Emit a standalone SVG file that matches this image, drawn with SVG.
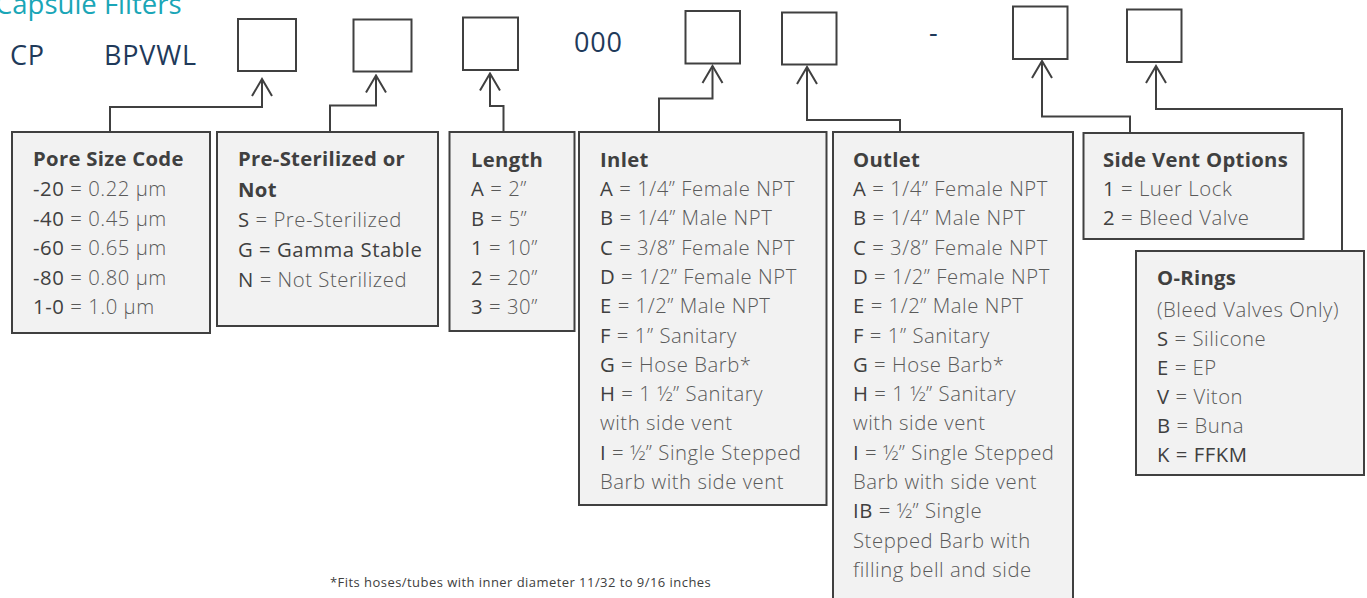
<svg xmlns="http://www.w3.org/2000/svg" width="1367" height="598" viewBox="0 0 1367 598">
<defs>
<style>
.slot{fill:#fff;stroke:#404040;stroke-width:2}
.box{fill:#f2f2f2;stroke:#404040;stroke-width:2}
.conn{fill:none;stroke:#404040;stroke-width:2}
text{font-family:"Open Sans","Noto Sans","Liberation Sans",sans-serif}
.code{font-size:27px;fill:#1f3a5a;letter-spacing:0.8px}
.t{font-size:20.3px;fill:#5a5a5a;font-weight:300;letter-spacing:0.55px}
.h{font-weight:700;fill:#404040;letter-spacing:0.3px}
.k{font-weight:400;fill:#404040}
.title{font-size:27.5px;fill:#1aa6b7}
.note{font-size:13px;fill:#404040;letter-spacing:0.45px}
</style>
<marker id="open" viewBox="-20 -12 22 24" refX="0" refY="0" markerWidth="22" markerHeight="24" markerUnits="userSpaceOnUse" orient="auto"><path d="M-17,-10 L0,0 L-17,10" fill="none" stroke="#404040" stroke-width="2"/></marker>
</defs>
<rect width="1367" height="598" fill="#fff"/>
<g id="header">
<text class="title" x="-5" y="14">Capsule Filters</text>
<text class="code" x="10" y="65">CP</text>
<text class="code" x="104" y="65">BPVWL</text>
<text class="code" x="574" y="52">000</text>
<text class="code" x="929" y="42">-</text>
</g>
<g id="slots">
<rect id="slot1" class="slot" x="238" y="19" width="58" height="52"/>
<rect id="slot2" class="slot" x="353.5" y="19.5" width="58" height="52"/>
<rect id="slot3" class="slot" x="463" y="17.5" width="55" height="52.5"/>
<rect id="slot4" class="slot" x="685.5" y="11" width="54.5" height="52.5"/>
<rect id="slot5" class="slot" x="782" y="12.5" width="54.5" height="52"/>
<rect id="slot6" class="slot" x="1013" y="6.5" width="54.5" height="52.5"/>
<rect id="slot7" class="slot" x="1127" y="9.5" width="54.5" height="52.5"/>
</g>
<g id="connectors">
<path class="conn" d="M110,133 V107 H262 V79" marker-end="url(#open)"/>
<path class="conn" d="M330,133 V105.5 H376 V75.5" marker-end="url(#open)"/>
<path class="conn" d="M503.5,132 V106 H490 V73.5" marker-end="url(#open)"/>
<path class="conn" d="M659,132 V98.5 H712.5 V66" marker-end="url(#open)"/>
<path class="conn" d="M900,133 V120 H807 V67" marker-end="url(#open)"/>
<path class="conn" d="M1130,133 V116.5 H1042 V61" marker-end="url(#open)"/>
<path class="conn" d="M1342,251 V109 H1156 V66" marker-end="url(#open)"/>
</g>
<g id="pore">
<rect class="box" x="12" y="132" width="198" height="201"/>
<text class="t" x="33"><tspan class="h" x="33" y="166">Pore Size Code</tspan>
<tspan x="33" y="196"><tspan class="k">-20</tspan> = 0.22 µm</tspan>
<tspan x="33" y="225.5"><tspan class="k">-40</tspan> = 0.45 µm</tspan>
<tspan x="33" y="255"><tspan class="k">-60</tspan> = 0.65 µm</tspan>
<tspan x="33" y="284.5"><tspan class="k">-80</tspan> = 0.80 µm</tspan>
<tspan x="33" y="314"><tspan class="k">1-0</tspan> = 1.0 µm</tspan></text>
</g>
<g id="sterile">
<rect class="box" x="217" y="132" width="221" height="194"/>
<text class="t"><tspan class="h" x="238" y="166">Pre-Sterilized or</tspan>
<tspan class="h" x="238" y="196.5">Not</tspan>
<tspan x="238" y="226.5"><tspan class="k">S</tspan> = Pre-Sterilized</tspan>
<tspan x="238" y="256.5" class="k">G = Gamma Stable</tspan>
<tspan x="238" y="286.5"><tspan class="k">N</tspan> = Not Sterilized</tspan></text>
</g>
<g id="length">
<rect class="box" x="449.5" y="132" width="125" height="199"/>
<text class="t"><tspan class="h" x="471" y="166.5">Length</tspan>
<tspan x="471" y="196"><tspan class="k">A</tspan> = 2”</tspan>
<tspan x="471" y="225.5"><tspan class="k">B</tspan> = 5”</tspan>
<tspan x="471" y="255"><tspan class="k">1</tspan> = 10”</tspan>
<tspan x="471" y="284.5"><tspan class="k">2</tspan> = 20”</tspan>
<tspan x="471" y="314"><tspan class="k">3</tspan> = 30”</tspan></text>
</g>
<g id="inlet">
<rect class="box" x="579" y="132" width="247.5" height="373"/>
<text class="t"><tspan class="h" x="600" y="166.5">Inlet</tspan>
<tspan x="600" y="196"><tspan class="k">A</tspan> = 1/4” Female NPT</tspan>
<tspan x="600" y="225.3"><tspan class="k">B</tspan> = 1/4” Male NPT</tspan>
<tspan x="600" y="254.6"><tspan class="k">C</tspan> = 3/8” Female NPT</tspan>
<tspan x="600" y="283.9"><tspan class="k">D</tspan> = 1/2” Female NPT</tspan>
<tspan x="600" y="313.2"><tspan class="k">E</tspan> = 1/2” Male NPT</tspan>
<tspan x="600" y="342.5"><tspan class="k">F</tspan> = 1” Sanitary</tspan>
<tspan x="600" y="371.8"><tspan class="k">G</tspan> = Hose Barb*</tspan>
<tspan x="600" y="401.1"><tspan class="k">H</tspan> = 1 ½” Sanitary</tspan>
<tspan x="600" y="430.4">with side vent</tspan>
<tspan x="600" y="459.7"><tspan class="k">I</tspan> = ½” Single Stepped</tspan>
<tspan x="600" y="489">Barb with side vent</tspan></text>
</g>
<g id="outlet">
<rect class="box" x="833" y="132" width="240" height="480"/>
<text class="t"><tspan class="h" x="853" y="166.5">Outlet</tspan>
<tspan x="853" y="196"><tspan class="k">A</tspan> = 1/4” Female NPT</tspan>
<tspan x="853" y="225.3"><tspan class="k">B</tspan> = 1/4” Male NPT</tspan>
<tspan x="853" y="254.6"><tspan class="k">C</tspan> = 3/8” Female NPT</tspan>
<tspan x="853" y="283.9"><tspan class="k">D</tspan> = 1/2” Female NPT</tspan>
<tspan x="853" y="313.2"><tspan class="k">E</tspan> = 1/2” Male NPT</tspan>
<tspan x="853" y="342.5"><tspan class="k">F</tspan> = 1” Sanitary</tspan>
<tspan x="853" y="371.8"><tspan class="k">G</tspan> = Hose Barb*</tspan>
<tspan x="853" y="401.1"><tspan class="k">H</tspan> = 1 ½” Sanitary</tspan>
<tspan x="853" y="430.4">with side vent</tspan>
<tspan x="853" y="459.7"><tspan class="k">I</tspan> = ½” Single Stepped</tspan>
<tspan x="853" y="489">Barb with side vent</tspan>
<tspan x="853" y="518.3"><tspan class="k">IB</tspan> = ½” Single</tspan>
<tspan x="853" y="547.6">Stepped Barb with</tspan>
<tspan x="853" y="576.9">filling bell and side</tspan></text>
</g>
<g id="sidevent">
<rect class="box" x="1083.5" y="133" width="220" height="106"/>
<text class="t"><tspan class="h" x="1103" y="167">Side Vent Options</tspan>
<tspan x="1103" y="196"><tspan class="k">1</tspan> = Luer Lock</tspan>
<tspan x="1103" y="225"><tspan class="k">2</tspan> = Bleed Valve</tspan></text>
</g>
<g id="orings">
<rect class="box" x="1136" y="251" width="228" height="224"/>
<text class="t"><tspan class="h" x="1157" y="285">O-Rings</tspan>
<tspan x="1157" y="316.5">(Bleed Valves Only)</tspan>
<tspan x="1157" y="345.5"><tspan class="k">S</tspan> = Silicone</tspan>
<tspan x="1157" y="374.5"><tspan class="k">E</tspan> = EP</tspan>
<tspan x="1157" y="403.5"><tspan class="k">V</tspan> = Viton</tspan>
<tspan x="1157" y="432.5"><tspan class="k">B</tspan> = Buna</tspan>
<tspan x="1157" y="461.5" class="k">K = FFKM</tspan></text>
</g>
<g id="footnote">
<text class="note" x="330" y="587">*Fits hoses/tubes with inner diameter 11/32 to 9/16 inches</text>
</g>
</svg>
